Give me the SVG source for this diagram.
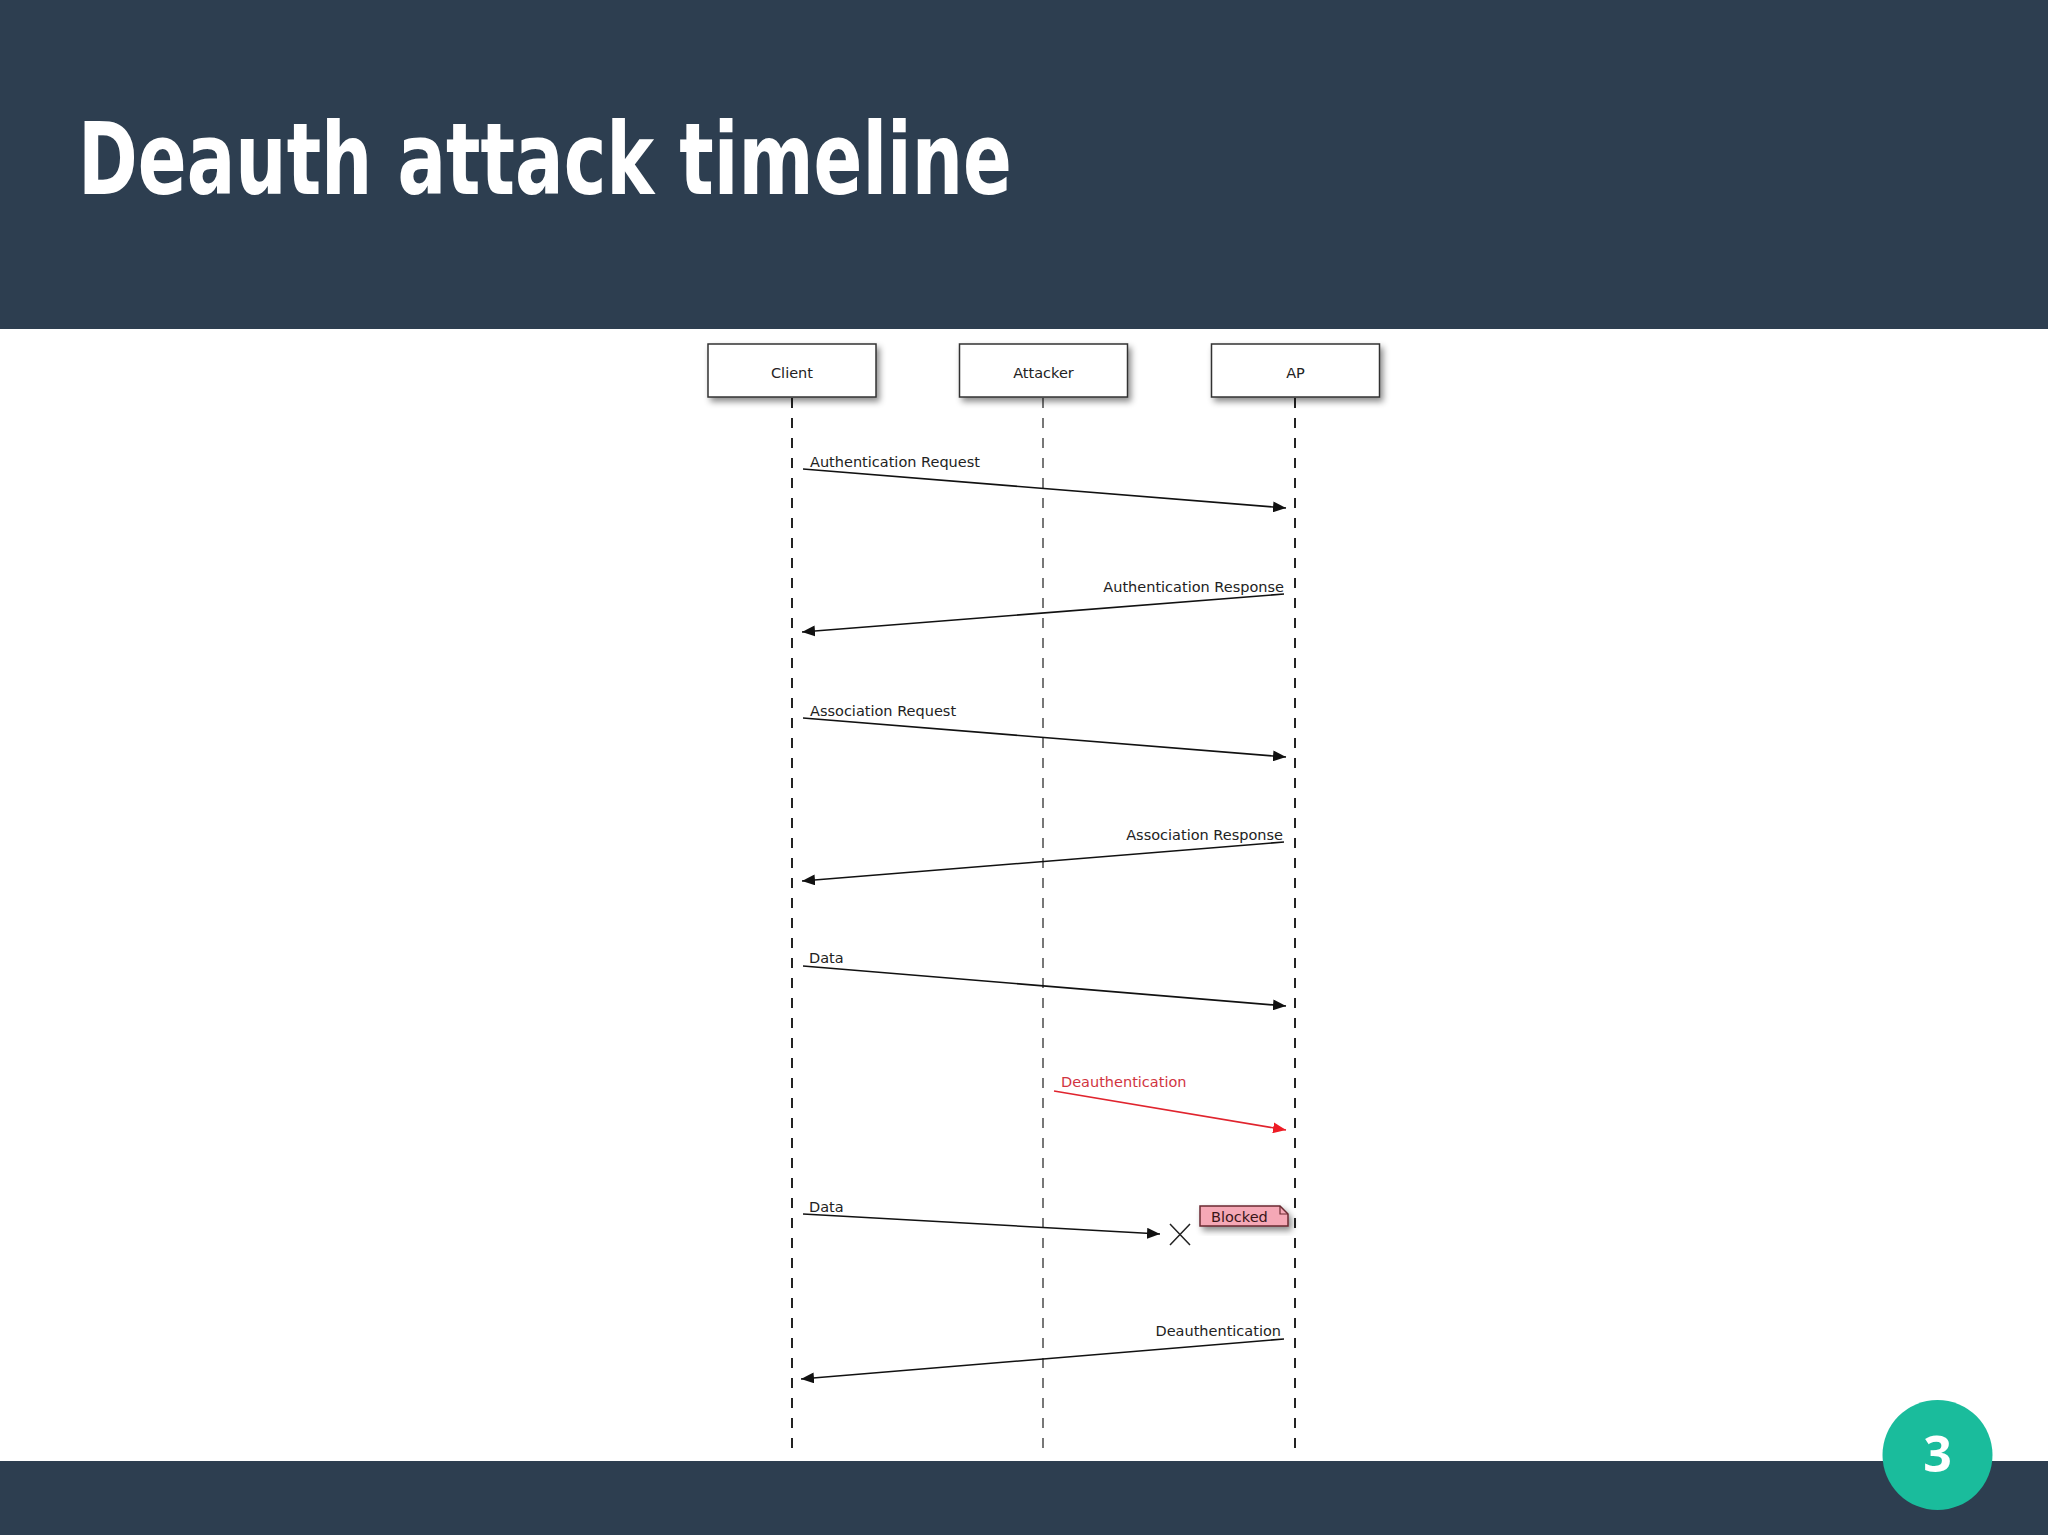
<svg xmlns="http://www.w3.org/2000/svg" width="2048" height="1535" viewBox="0 0 2048 1535">
<style>
.lbl{font-family:"DejaVu Sans","Liberation Sans",sans-serif;font-size:14.5px;fill:#222}
.box{fill:#fff;stroke:#333;stroke-width:1.5}
.life{stroke:#222;stroke-width:2;stroke-dasharray:10 10;fill:none}
.msg{stroke:#111;stroke-width:1.6;fill:none;marker-end:url(#ah)}
.red{stroke:#e0242e;marker-end:url(#ahr)}
</style>
<defs>
<marker id="ah" viewBox="0 0 13 11" refX="13" refY="5.5" markerWidth="13" markerHeight="11" markerUnits="userSpaceOnUse" orient="auto"><path d="M0,0 L13,5.5 L0,11 Z" fill="#111"/></marker>
<marker id="ahr" viewBox="0 0 13 11" refX="13" refY="5.5" markerWidth="13" markerHeight="11" markerUnits="userSpaceOnUse" orient="auto"><path d="M0,0 L13,5.5 L0,11 Z" fill="#ee1c25"/></marker>
<filter id="sh" x="-20%" y="-30%" width="140%" height="180%"><feDropShadow dx="3" dy="4" stdDeviation="3" flood-color="#000" flood-opacity="0.45"/></filter>
</defs>
<rect x="0" y="0" width="2048" height="1535" fill="#fff"/>
<rect x="0" y="0" width="2048" height="329" fill="#2d3e50"/>
<text x="78" y="194" font-family="DejaVu Sans Condensed,DejaVu Sans,Liberation Sans,sans-serif" font-weight="bold" font-size="99" fill="#fff" textLength="934" lengthAdjust="spacingAndGlyphs">Deauth attack timeline</text>
<rect x="0" y="1461" width="2048" height="74" fill="#2d3e50"/>
<g id="page-number">
<circle cx="1937.5" cy="1455" r="55" fill="#1abc9c"/>
<text x="1937.5" y="1472" text-anchor="middle" font-family="Open Sans,DejaVu Sans,sans-serif" font-weight="bold" font-size="50" fill="#fff">3</text>
</g>
<g id="lifelines">
<line class="life" x1="792" y1="398" x2="792" y2="1458"/>
<line class="life" x1="1043" y1="398" x2="1043" y2="1458" style="stroke:#777"/>
<line class="life" x1="1295" y1="398" x2="1295" y2="1458"/>
</g>
<g id="client">
<rect class="box" x="708" y="344" width="168" height="53" filter="url(#sh)"/>
<text class="lbl" x="792" y="378" text-anchor="middle">Client</text>
</g>
<g id="attacker">
<rect class="box" x="959.5" y="344" width="168" height="53" filter="url(#sh)"/>
<text class="lbl" x="1043.5" y="378" text-anchor="middle">Attacker</text>
</g>
<g id="ap">
<rect class="box" x="1211.5" y="344" width="168" height="53" filter="url(#sh)"/>
<text class="lbl" x="1295.5" y="378" text-anchor="middle">AP</text>
</g>
<g id="connectors">
<line class="msg" x1="803" y1="469" x2="1286" y2="508"/>
<line class="msg" x1="1284" y1="594" x2="802" y2="632"/>
<line class="msg" x1="803" y1="718" x2="1286" y2="757"/>
<line class="msg" x1="1284" y1="842" x2="802" y2="881"/>
<line class="msg" x1="803" y1="966" x2="1286" y2="1006"/>
<line class="msg red" x1="1054" y1="1091" x2="1286" y2="1130"/>
<line class="msg" x1="803" y1="1214" x2="1160" y2="1234"/>
<line class="msg" x1="1284" y1="1339" x2="801" y2="1379"/>
</g>
<g id="labels">
<text class="lbl" x="810" y="467">Authentication Request</text>
<text class="lbl" x="1284" y="592" text-anchor="end">Authentication Response</text>
<text class="lbl" x="810" y="716">Association Request</text>
<text class="lbl" x="1283" y="840" text-anchor="end">Association Response</text>
<text class="lbl" x="809" y="963">Data</text>
<text class="lbl" x="1061" y="1087" style="fill:#d1343f">Deauthentication</text>
<text class="lbl" x="809" y="1212">Data</text>
<text class="lbl" x="1281" y="1336" text-anchor="end">Deauthentication</text>
</g>
<g id="blocked-x">
<path d="M1170,1224 L1190,1245 M1190,1224 L1170,1245" stroke="#222" stroke-width="1.5" fill="none"/>
</g>
<g id="blocked-note">
<path d="M1200,1206 L1280,1206 L1288,1214 L1288,1226 L1200,1226 Z" fill="#f5a8b6" stroke="#6a2a30" stroke-width="1.5" filter="url(#sh)"/>
<path d="M1280,1206 L1280,1214 L1288,1214" fill="none" stroke="#6a2a30" stroke-width="1.2"/>
<text class="lbl" x="1211" y="1222" style="fill:#3a1518">Blocked</text>
</g>
</svg>
